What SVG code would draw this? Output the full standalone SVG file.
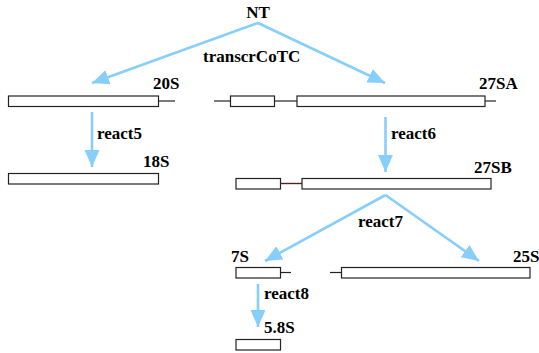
<svg xmlns="http://www.w3.org/2000/svg" width="539" height="353" viewBox="0 0 539 353">
<style>
.t{font-family:"Liberation Serif","Times New Roman",serif;font-weight:bold;font-size:17px;fill:#000}
.b{fill:#fff;stroke:#222;stroke-width:1.2}
.l{stroke:#222;stroke-width:1.2;fill:none}
.a{stroke:#87cefa;stroke-width:2.6;fill:none;marker-end:url(#ah)}
</style>
<defs>
<marker id="ah" markerUnits="userSpaceOnUse" markerWidth="20" markerHeight="16" refX="17" refY="7.5" orient="auto">
<path d="M0,0 L17,7.5 L0,15 Z" fill="#87cefa"/>
</marker>
</defs>
<rect width="539" height="353" fill="#fff"/>
<g id="connectors">
<line class="a" x1="258" y1="23" x2="92" y2="83"/>
<line class="a" x1="258" y1="23" x2="385" y2="83"/>
<line class="a" x1="92" y1="112" x2="92" y2="167"/>
<line class="a" x1="385.5" y1="117" x2="385.5" y2="172"/>
<line class="a" x1="385.5" y1="195" x2="265" y2="261"/>
<line class="a" x1="385.5" y1="195" x2="479" y2="261"/>
<line class="a" x1="258" y1="284" x2="258" y2="327"/>
</g>
<g id="NT"><text class="t" x="258" y="18" text-anchor="middle">NT</text></g>
<g id="transcrCoTC"><text class="t" x="203" y="62">transcrCoTC</text></g>
<g id="n20S">
<rect class="b" x="8.5" y="96" width="150" height="10.5"/>
<line class="l" x1="158.5" y1="101" x2="175" y2="101"/>
<text class="t" x="153" y="89">20S</text>
</g>
<g id="n27SA">
<line class="l" x1="214" y1="101" x2="230" y2="101"/>
<rect class="b" x="230.5" y="96" width="44" height="10.5"/>
<line class="l" x1="274.5" y1="101" x2="297" y2="101"/>
<rect class="b" x="297" y="96" width="188" height="10.5"/>
<line class="l" x1="485" y1="101" x2="496" y2="101"/>
<text class="t" x="479" y="89">27SA</text>
</g>
<g id="react5"><text class="t" x="97" y="139">react5</text></g>
<g id="react6"><text class="t" x="391" y="139">react6</text></g>
<g id="n18S">
<rect class="b" x="8.5" y="173.5" width="150" height="10.5"/>
<text class="t" x="143" y="167">18S</text>
</g>
<g id="n27SB">
<rect class="b" x="236" y="178.5" width="44.5" height="10.5"/>
<line x1="280.5" y1="183.5" x2="302" y2="183.5" stroke="#5a2020" stroke-width="1.4"/>
<rect class="b" x="302" y="178.5" width="189" height="10.5"/>
<text class="t" x="474" y="173">27SB</text>
</g>
<g id="react7"><text class="t" x="358" y="227">react7</text></g>
<g id="n7S">
<rect class="b" x="236" y="267.5" width="44.5" height="10.5"/>
<line class="l" x1="280.5" y1="272.5" x2="291" y2="272.5"/>
<text class="t" x="231" y="262">7S</text>
</g>
<g id="n25S">
<line class="l" x1="330" y1="272.5" x2="341.5" y2="272.5"/>
<rect class="b" x="341.5" y="267.5" width="188.5" height="10.5"/>
<text class="t" x="513" y="262">25S</text>
</g>
<g id="react8"><text class="t" x="264" y="299">react8</text></g>
<g id="n5.8S">
<rect class="b" x="236" y="339.5" width="44.5" height="10.5"/>
<text class="t" x="264" y="333">5.8S</text>
</g>
</svg>
